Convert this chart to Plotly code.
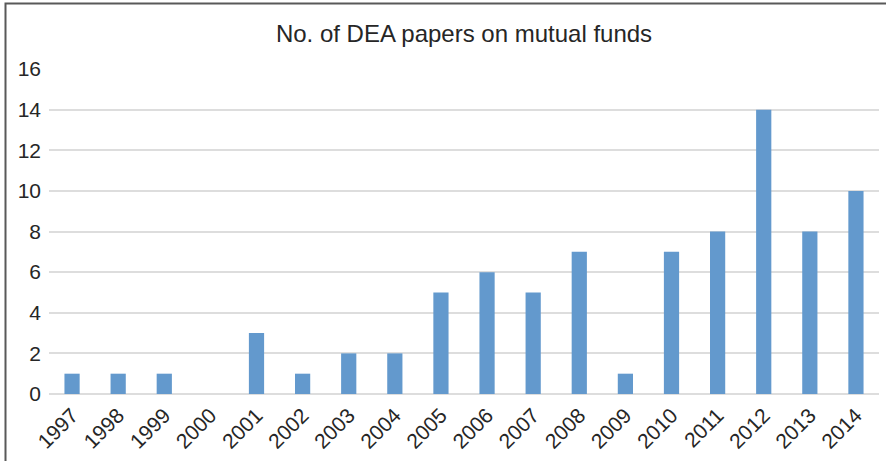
import plotly.graph_objects as go

years = ["1997", "1998", "1999", "2000", "2001", "2002", "2003", "2004", "2005",
         "2006", "2007", "2008", "2009", "2010", "2011", "2012", "2013", "2014"]
papers = [1, 1, 1, 0, 3, 1, 2, 2, 5, 6, 5, 7, 1, 7, 8, 14, 8, 10]
y_ticks = [0, 2, 4, 6, 8, 10, 12, 14, 16]

W, H = 886, 461
L, R, T, B = 49, 7, 69, 67
pw, ph = W - L - R, H - T - B

fig = go.Figure(go.Bar(x=years, y=papers, marker=dict(color="#6399CD", line=dict(width=0)),
                       width=0.33))

fig.update_layout(
    width=W, height=H,
    margin=dict(l=L, r=R, t=T, b=B),
    paper_bgcolor="white", plot_bgcolor="white",
    font=dict(family="Liberation Sans, Arial, sans-serif", color="#262626"),
    title=dict(text="No. of DEA papers on mutual funds", x=0.5, xref="paper",
               y=1 - 34 / H, yanchor="middle", font=dict(size=24, color="#262626")),
    showlegend=False,
    bargap=0.67,
    xaxis=dict(type="category", tickangle=-45, tickfont=dict(size=21),
               showgrid=False, showline=False, ticks="", zeroline=False,
               ticklabelstandoff=4),
    yaxis=dict(range=[0, 16], tickvals=y_ticks, tickfont=dict(size=21),
               showgrid=True, gridcolor="#DDDDDD", gridwidth=1.5,
               zeroline=True, zerolinecolor="#DDDDDD", zerolinewidth=1.5,
               showline=False, ticks="", ticklabelstandoff=7),
)

fig.add_shape(type="rect", xref="paper", yref="paper",
              x0=(5.5 - L) / pw, x1=(W + 10 - L) / pw,
              y0=(H - B - (H + 10)) / ph, y1=(H - B - 3.5) / ph,
              line=dict(color="#595959", width=2), fillcolor="rgba(0,0,0,0)", layer="above")

fig.write_html("out.html")
